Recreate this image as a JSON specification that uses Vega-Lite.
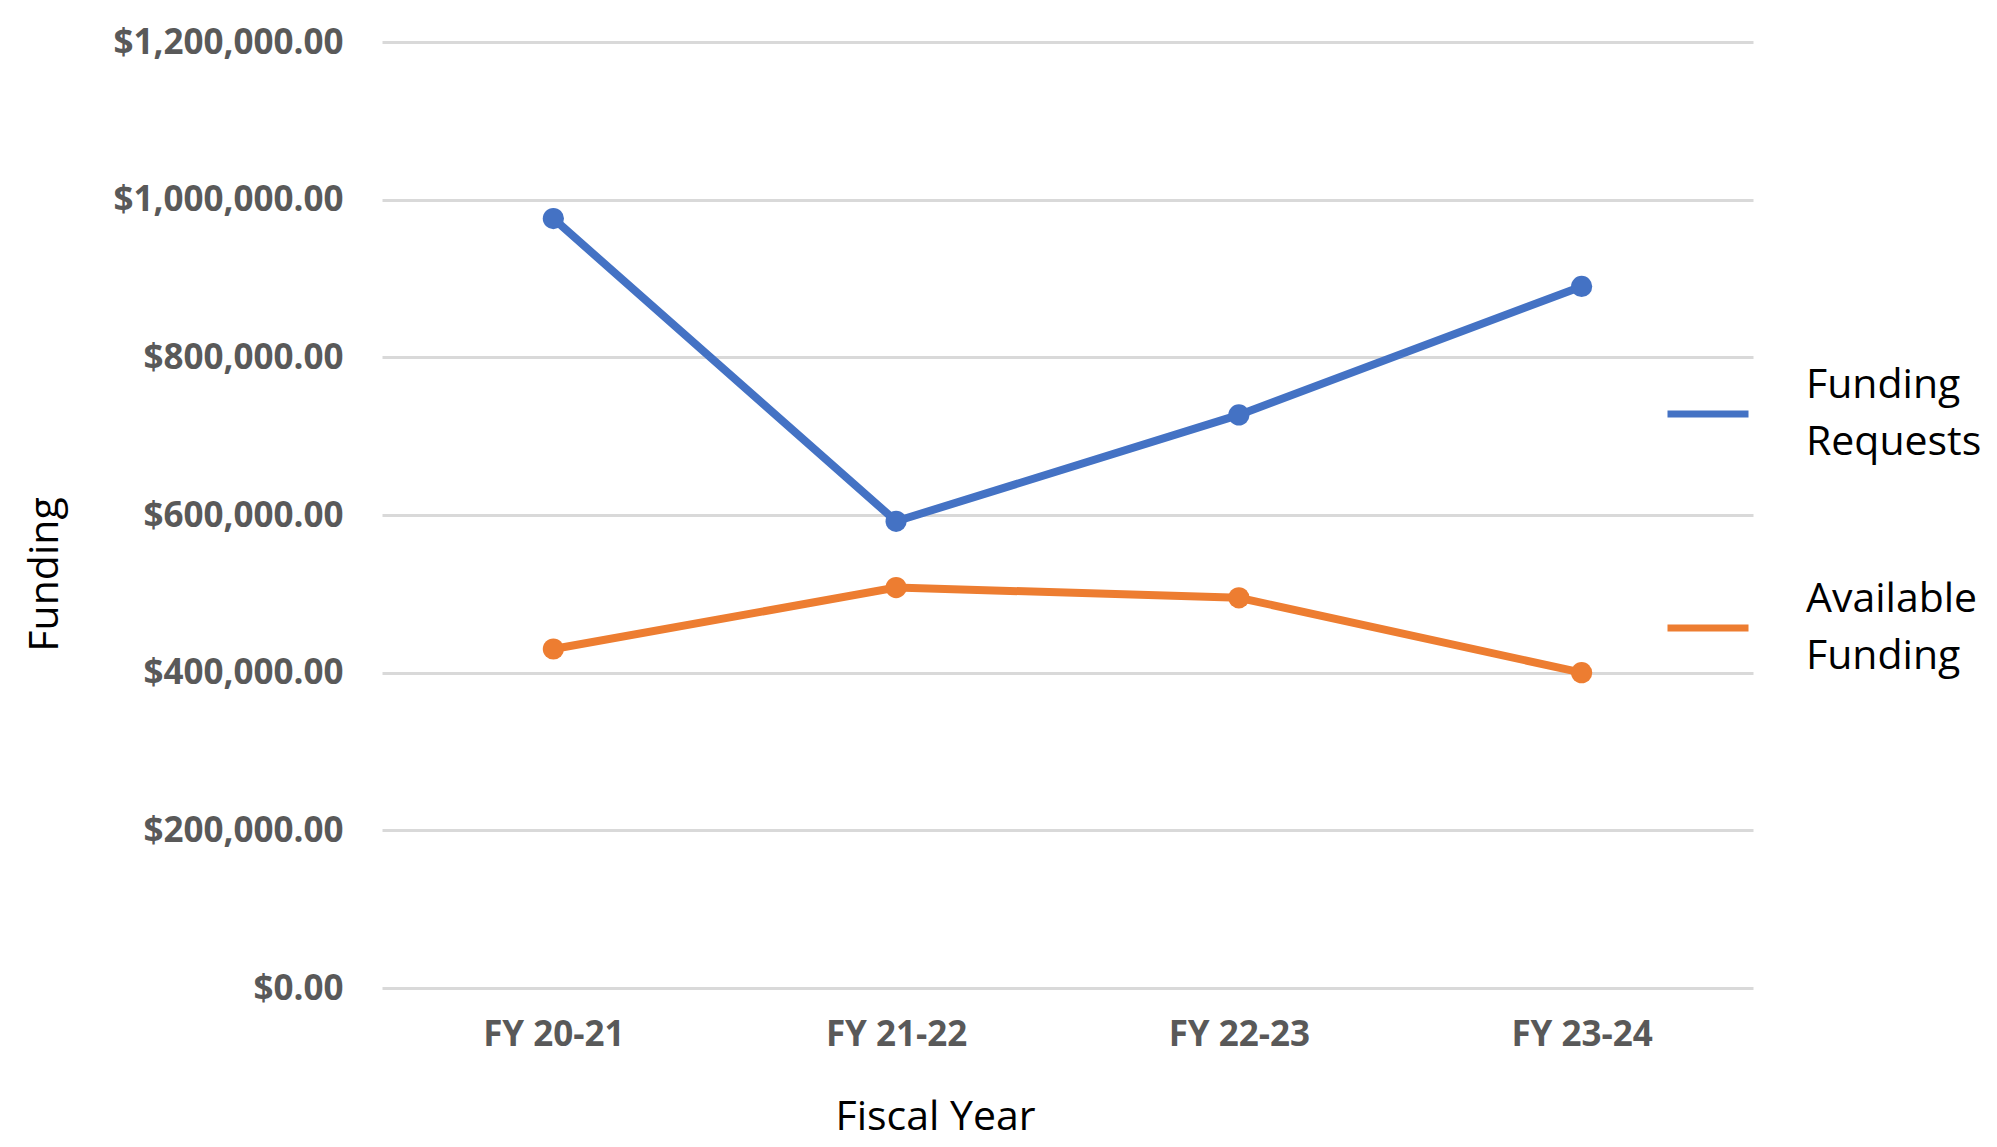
{
  "$schema": "https://vega.github.io/schema/vega-lite/v6.json",
  "autosize": {"type": "none"},
  "padding": {"left": 382, "top": 42, "right": 244, "bottom": 159},
  "width": 1371,
  "height": 946,
  "background": "white",
  "config": {
    "view": {"stroke": null},
    "axis": {
      "labelFont": "Open Sans",
      "labelFontWeight": "bold",
      "labelFontSize": 35,
      "labelColor": "#595959",
      "labelLimit": 500,
      "titleFont": "Open Sans",
      "titleFontWeight": "normal",
      "titleFontSize": 41,
      "titleColor": "#000000",
      "domain": false,
      "ticks": false
    }
  },
  "data": {
    "values": [
      {"year": "FY 20-21", "series": "Funding Requests", "amount": 976000},
      {"year": "FY 21-22", "series": "Funding Requests", "amount": 592000},
      {"year": "FY 22-23", "series": "Funding Requests", "amount": 727000},
      {"year": "FY 23-24", "series": "Funding Requests", "amount": 890000},
      {"year": "FY 20-21", "series": "Available Funding", "amount": 430000},
      {"year": "FY 21-22", "series": "Available Funding", "amount": 508000},
      {"year": "FY 22-23", "series": "Available Funding", "amount": 495000},
      {"year": "FY 23-24", "series": "Available Funding", "amount": 400000}
    ]
  },
  "mark": {"type": "line", "strokeWidth": 8, "point": {"filled": true, "size": 450}},
  "encoding": {
    "x": {
      "field": "year",
      "type": "nominal",
      "sort": null,
      "scale": {"type": "point", "padding": 0.5},
      "axis": {
        "title": "Fiscal Year",
        "labelAngle": 0,
        "labelPadding": 29,
        "grid": false,
        "titleX": 553,
        "titleY": 129,
        "titleAlign": "center",
        "titleBaseline": "middle"
      }
    },
    "y": {
      "field": "amount",
      "type": "quantitative",
      "scale": {"domain": [0, 1200000], "nice": false},
      "axis": {
        "title": "Funding",
        "values": [0, 200000, 400000, 600000, 800000, 1000000, 1200000],
        "format": "$,.2f",
        "labelPadding": 39,
        "gridColor": "#D9D9D9",
        "gridWidth": 3,
        "titleX": -337,
        "titleY": 532,
        "titleAlign": "center",
        "titleBaseline": "middle"
      }
    },
    "color": {
      "field": "series",
      "type": "nominal",
      "scale": {"domain": ["Funding Requests", "Available Funding"], "range": ["#4472C4", "#ED7D31"]},
      "legend": {
        "title": null,
        "orient": "none",
        "legendX": 1282,
        "legendY": 328,
        "padding": 0,
        "symbolType": "stroke",
        "symbolSize": 6561,
        "symbolStrokeWidth": 7,
        "labelFont": "Open Sans",
        "labelFontSize": 41,
        "labelColor": "#000000",
        "labelOffset": 54,
        "labelLimit": 400,
        "rowPadding": 116,
        "labelExpr": "split(datum.label, ' ')",
        "encode": {
          "labels": {"update": {"lineHeight": {"value": 57}, "dy": {"value": -28}}},
          "symbols": {"update": {"stroke": {"signal": "datum.value == 'Funding Requests' ? '#0070C0' : '#ED7D31'"}}}
        }
      }
    }
  }
}
